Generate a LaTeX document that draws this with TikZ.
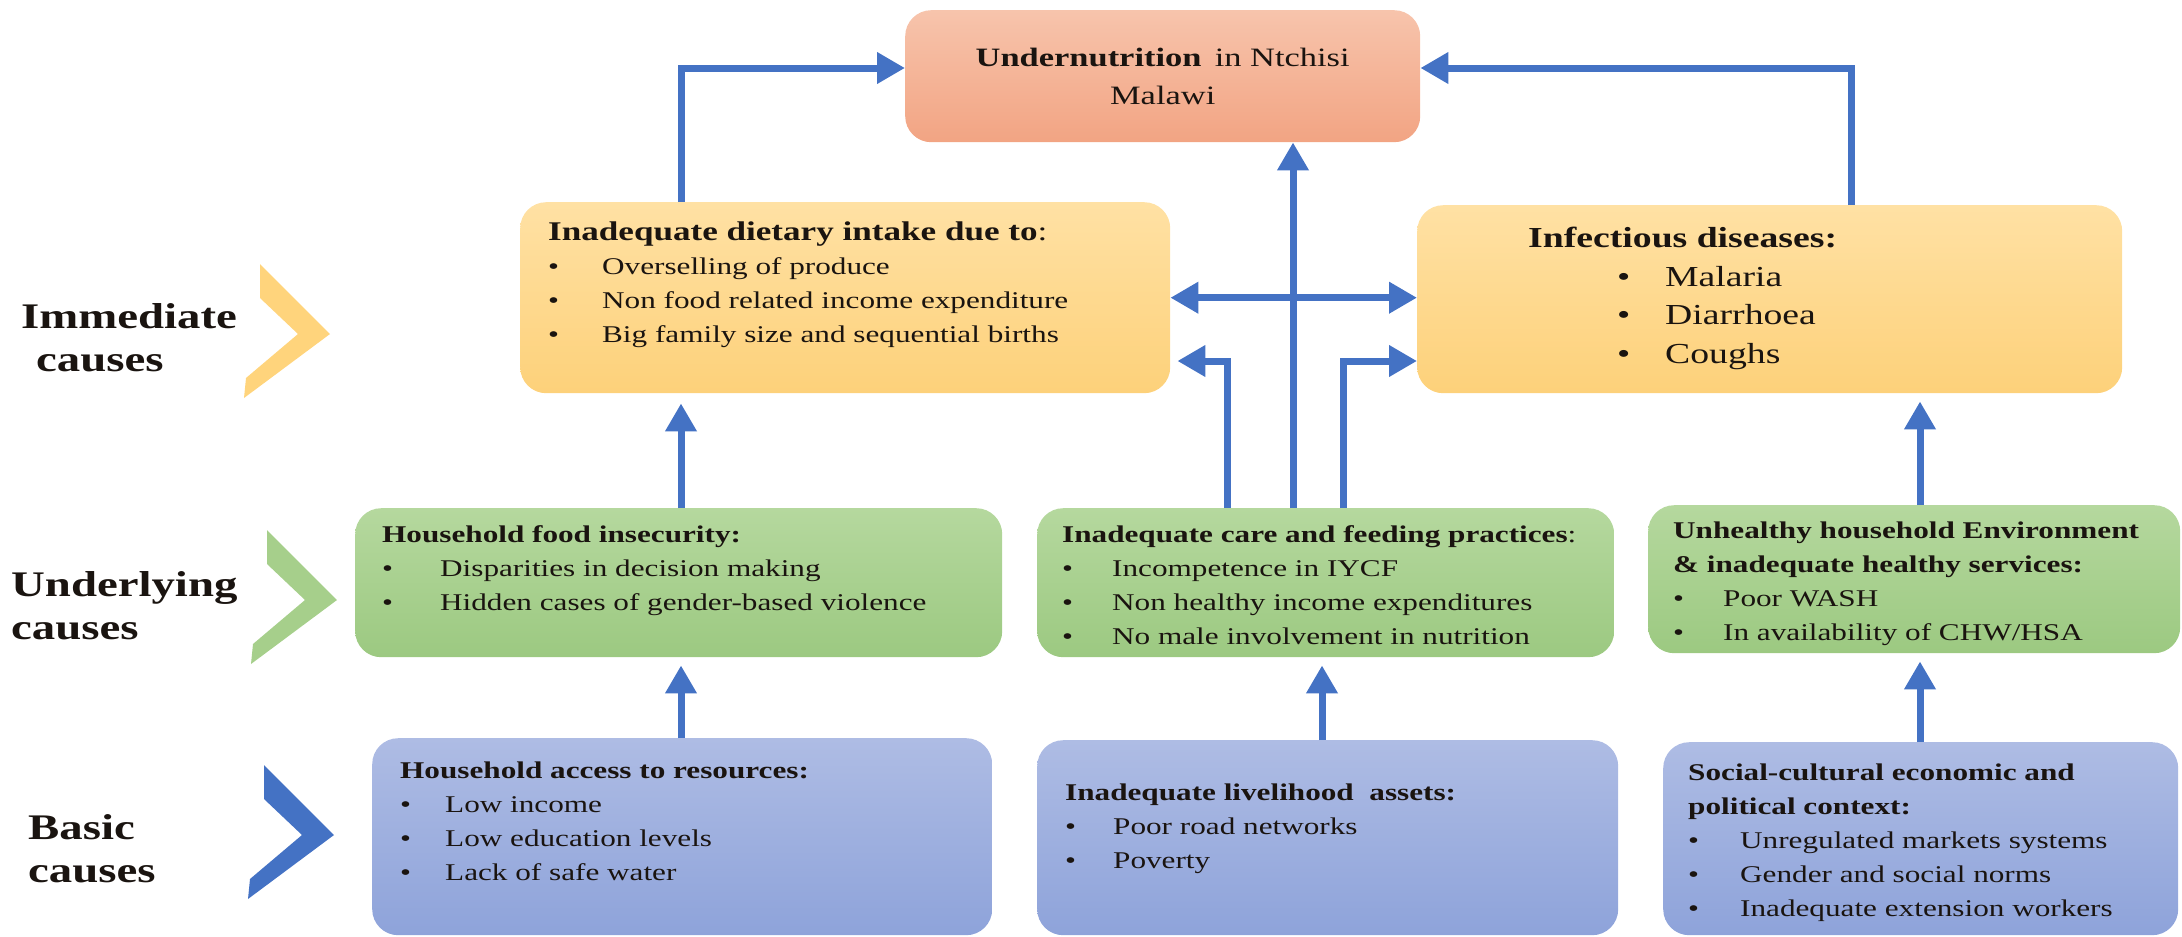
\documentclass[tikz,border=0pt]{standalone}
\usepackage{fontspec}
\setmainfont[FakeStretch=1.3]{Liberation Serif}
\usepackage{tikz}
\usetikzlibrary{arrows.meta}
\definecolor{UnderTop}{HTML}{F7C4AC}
\definecolor{UnderBot}{HTML}{F2A483}
\definecolor{YellowTop}{HTML}{FFE1A4}
\definecolor{YellowBot}{HTML}{FDD17A}
\definecolor{GreenTop}{HTML}{B5D89E}
\definecolor{GreenBot}{HTML}{9CC981}
\definecolor{BlueTop}{HTML}{AEBCE4}
\definecolor{BlueBot}{HTML}{8EA3DA}
\definecolor{ArrowBlue}{HTML}{4472C4}
\definecolor{ChevYellow}{HTML}{FFD47C}
\definecolor{ChevGreen}{HTML}{A6CF8B}
\definecolor{ChevBlue}{HTML}{4472C4}
\definecolor{TextDark}{HTML}{1A1410}
\newcommand{\itm}[1][50pt]{\makebox[#1][l]{\textbullet}}
\newcommand{\boxbody}[3]{\parbox[c][#2][t]{#1}{\raggedright\fontsize{24}{34}\selectfont #3}}
\vbadness=10000
\begin{document}
\begin{tikzpicture}[x=1pt,y=-1pt,
  box/.style={rounded corners=26pt,inner sep=0pt,anchor=north west,text=TextDark},
  under/.style={box,top color=UnderTop,bottom color=UnderBot},
  immediate/.style={box,top color=YellowTop,bottom color=YellowBot},
  underlying/.style={box,top color=GreenTop,bottom color=GreenBot},
  basic/.style={box,top color=BlueTop,bottom color=BlueBot},
  level/.style={anchor=west,align=left,inner sep=0pt,text=TextDark,font=\fontsize{36}{43}\selectfont\bfseries},
  arrow/.style={-{Triangle[length=28pt,width=30pt]},line width=7pt,draw=ArrowBlue},
  twoway/.style={{Triangle[length=28pt,width=30pt]}-{Triangle[length=28pt,width=30pt]},line width=7pt,draw=ArrowBlue}
]
  \useasboundingbox (0,0) rectangle (2182,937);
  % level labels and chevrons
  \node[level] (immlab) at (21,338) {Immediate\\\hspace*{15pt}causes};
  \node[level] (undlab) at (11,606) {Underlying\\causes};
  \node[level] (baslab) at (28,849) {Basic\\causes};
  \foreach \tx/\ty/\col in {330/334/ChevYellow,337/600/ChevGreen,334/835/ChevBlue}
    \fill[\col] (\tx,\ty) -- ++(-70,-70) -- ++(0,34) -- ++(38,36) -- ++(-52,44) -- ++(-2,20) -- cycle;
  % outcome
  \node[under,minimum width=515pt,minimum height=132pt,align=center,
    font=\fontsize{26.5}{38}\selectfont] (under) at (905,10)
    {\textbf{Undernutrition}\enspace in Ntchisi\\Malawi};
  % immediate causes
  \node[immediate,inner xsep=28pt,inner ysep=20pt] (diet) at (520,202) {\boxbody{594pt}{151pt}{%
    {\fontsize{27}{34}\selectfont\textbf{Inadequate dietary intake due to}:}\\
    \itm[54pt]Overselling of produce\\
    \itm[54pt]Non food related income expenditure\\
    \itm[54pt]Big family size and sequential births}};
  \node[immediate,inner xsep=111pt,inner ysep=22pt] (infect) at (1417,205) {\boxbody{483pt}{144pt}{%
    \fontsize{29}{38.5}\selectfont\textbf{Infectious diseases:}\\
    \hspace*{89pt}\itm[48pt]Malaria\\
    \hspace*{89pt}\itm[48pt]Diarrhoea\\
    \hspace*{89pt}\itm[48pt]Coughs}};
  % underlying causes
  \node[underlying,inner xsep=27pt,inner ysep=17pt] (foodsec) at (355,508) {\boxbody{593pt}{115pt}{%
    \textbf{Household food insecurity:}\\
    \itm[58pt]Disparities in decision making\\
    \itm[58pt]Hidden cases of gender-based violence}};
  \node[underlying,inner xsep=25pt,inner ysep=17pt] (care) at (1037,508) {\boxbody{527pt}{115pt}{%
    \textbf{Inadequate care and feeding practices}:\\
    \itm Incompetence in IYCF\\
    \itm Non healthy income expenditures\\
    \itm No male involvement in nutrition}};
  \node[underlying,inner xsep=25pt,inner ysep=17pt] (env) at (1648,505) {\boxbody{482pt}{114pt}{%
    \textbf{Unhealthy household Environment}\\
    \textbf{\& inadequate healthy services:}\\
    \itm Poor WASH\\
    \itm In availability of CHW/HSA}};
  % basic causes
  \node[basic,inner xsep=28pt,inner ysep=24pt] (access) at (372,738) {\boxbody{564pt}{149pt}{%
    \textbf{Household access to resources:}\\
    \itm[45pt]Low income\\
    \itm[45pt]Low education levels\\
    \itm[45pt]Lack of safe water}};
  \node[basic,inner xsep=28pt,inner ysep=24pt] (assets) at (1037,740) {\boxbody{525pt}{147pt}{%
    \vspace*{20pt}\textbf{Inadequate livelihood\ \ assets:}\\
    \itm[48pt]Poor road networks\\
    \itm[48pt]Poverty}};
  \node[basic,inner xsep=25pt,inner ysep=22pt] (context) at (1663,742) {\boxbody{465pt}{149pt}{%
    \textbf{Social-cultural economic and}\\
    \textbf{political context:}\\
    \itm[52pt]Unregulated markets systems\\
    \itm[52pt]Gender and social norms\\
    \itm[52pt]Inadequate extension workers}};
  % connectors
  \coordinate (xL) at (681,0);
  \coordinate (xML) at (1227,0);
  \coordinate (xM) at (1293,0);
  \coordinate (xMR) at (1343,0);
  \coordinate (xMB) at (1322,0);
  \coordinate (xRT) at (1851,0);
  \coordinate (xR) at (1920,0);
  \coordinate (yTop) at (0,68);
  \coordinate (yCare) at (0,361);
  \draw[arrow] (xL |- diet.north) -- (xL |- yTop) -- (under.west |- yTop);
  \draw[arrow] (xRT |- infect.north) -- (xRT |- yTop) -- (under.east |- yTop);
  \draw[arrow] (xM |- care.north) -- (xM |- under.south);
  \draw[twoway] (diet.east) -- (diet.east -| infect.west);
  \draw[arrow,shorten >=7pt] (xML |- care.north) -- (xML |- yCare) -- (diet.east |- yCare);
  \draw[arrow] (xMR |- care.north) -- (xMR |- yCare) -- (infect.west |- yCare);
  \draw[arrow,shorten >=10pt] (xL |- foodsec.north) -- (xL |- diet.south);
  \draw[arrow,shorten >=8pt] (xR |- env.north) -- (xR |- infect.south);
  \draw[arrow,shorten >=8pt] (xL |- access.north) -- (xL |- foodsec.south);
  \draw[arrow,shorten >=8pt] (xMB |- assets.north) -- (xMB |- care.south);
  \draw[arrow,shorten >=8pt] (xR |- context.north) -- (xR |- env.south);
\end{tikzpicture}
\end{document}
